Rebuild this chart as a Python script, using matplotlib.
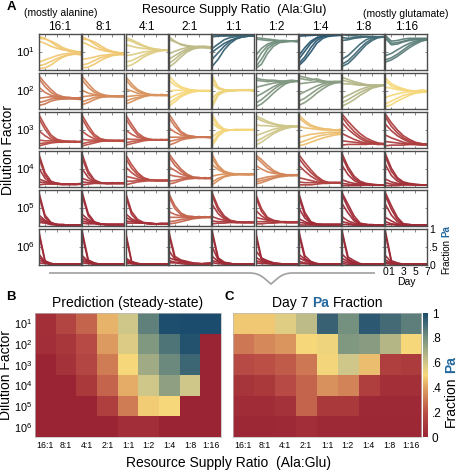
import numpy as np
import matplotlib
matplotlib.use("Agg")
import matplotlib.pyplot as plt
from matplotlib.colors import LinearSegmentedColormap
from matplotlib.path import Path
from matplotlib.patches import PathPatch

plt.rcParams['font.family'] = ['Liberation Sans', 'DejaVu Sans']
plt.rcParams['mathtext.fontset'] = 'custom'
plt.rcParams['mathtext.rm'] = 'Liberation Sans'
plt.rcParams['mathtext.it'] = 'Liberation Sans:italic'
plt.rcParams['mathtext.bf'] = 'Liberation Sans:bold'

W, H = 457, 471

ratios = ['16:1', '8:1', '4:1', '2:1', '1:1', '1:2', '1:4', '1:8', '1:16']
dilutions = ['$10^{1}$', '$10^{2}$', '$10^{3}$', '$10^{4}$', '$10^{5}$', '$10^{6}$']
days = [0, 1, 2, 3, 4, 5, 6, 7]

# steady-state model prediction (fraction Pa), rows = dilution 10^1..10^6
prediction = [
    [0.06, 0.15, 0.25, 0.43, 0.60, 0.84, 0.99, 1.00, 1.00],
    [0.05, 0.09, 0.18, 0.38, 0.57, 0.77, 0.88, 0.98, 0.00],
    [0.00, 0.07, 0.16, 0.31, 0.50, 0.70, 0.82, 0.92, 0.00],
    [0.00, 0.00, 0.10, 0.25, 0.42, 0.60, 0.74, 0.60, 0.00],
    [0.00, 0.00, 0.00, 0.13, 0.31, 0.48, 0.50, 0.00, 0.00],
    [0.00, 0.00, 0.00, 0.00, 0.05, 0.05, 0.00, 0.00, 0.00],
]

# measured day 7 fraction Pa
day7 = [
    [0.47, 0.47, 0.56, 0.64, 0.93, 0.80, 0.96, 0.91, 0.85],
    [0.30, 0.34, 0.37, 0.50, 0.52, 0.77, 0.75, 0.66, 0.50],
    [0.18, 0.20, 0.23, 0.30, 0.51, 0.60, 0.45, 0.13, 0.11],
    [0.08, 0.10, 0.18, 0.25, 0.36, 0.33, 0.13, 0.06, 0.06],
    [0.04, 0.04, 0.07, 0.25, 0.10, 0.10, 0.03, 0.03, 0.03],
    [0.02, 0.02, 0.03, 0.05, 0.03, 0.03, 0.02, 0.02, 0.02],
]

# time courses (% Pa, days 0..7), one list of replicate lines per ratio
traj_1e1 = [
    [[93, 88, 78, 66, 58, 52, 50, 50], [88, 86, 80, 72, 62, 56, 52, 48], [80, 74, 66, 60, 56, 54, 52, 50],
     [22, 28, 34, 40, 44, 46, 48, 46], [12, 16, 24, 32, 38, 42, 44, 42], [4, 6, 14, 26, 36, 42, 45, 44]],
    [[92, 84, 72, 62, 55, 50, 48, 46], [86, 84, 78, 68, 58, 52, 48, 46], [78, 70, 62, 56, 52, 50, 48, 47],
     [30, 32, 36, 40, 42, 44, 45, 44], [14, 18, 26, 34, 38, 42, 44, 42], [6, 8, 16, 26, 34, 40, 42, 44]],
    [[90, 84, 76, 68, 62, 58, 56, 55], [84, 80, 72, 66, 60, 58, 56, 54], [70, 66, 62, 60, 58, 56, 56, 55],
     [40, 42, 46, 50, 52, 54, 56, 56], [22, 26, 34, 42, 48, 52, 54, 55], [10, 14, 24, 36, 44, 50, 54, 56]],
    [[92, 80, 70, 66, 64, 64, 62, 62], [85, 78, 72, 68, 66, 64, 64, 62], [45, 52, 58, 62, 64, 66, 66, 64],
     [30, 40, 50, 58, 62, 64, 64, 62], [18, 30, 44, 54, 60, 62, 62, 60], [8, 20, 36, 50, 58, 62, 64, 62]],
    [[98, 96, 95, 96, 96, 97, 96, 97], [92, 94, 95, 95, 96, 96, 97, 96], [60, 72, 84, 90, 93, 95, 95, 95],
     [50, 62, 74, 82, 88, 92, 94, 95], [30, 48, 66, 80, 88, 92, 94, 94], [10, 30, 56, 74, 86, 92, 94, 95]],
    [[90, 88, 86, 84, 82, 82, 80, 80], [86, 84, 82, 82, 80, 80, 80, 80], [40, 60, 72, 78, 80, 80, 80, 80],
     [20, 48, 66, 76, 80, 80, 80, 80], [8, 30, 58, 72, 78, 80, 80, 78], [4, 16, 46, 66, 76, 78, 80, 82]],
    [[98, 97, 97, 97, 97, 98, 97, 98], [94, 95, 96, 97, 97, 97, 97, 97], [40, 62, 80, 90, 94, 96, 97, 97],
     [30, 52, 74, 88, 94, 96, 96, 97], [18, 36, 62, 82, 92, 95, 96, 96], [12, 28, 50, 74, 88, 94, 96, 97]],
    [[98, 96, 95, 94, 94, 93, 92, 93], [90, 88, 90, 92, 92, 92, 92, 92], [82, 84, 88, 90, 92, 92, 92, 92],
     [30, 40, 56, 72, 84, 90, 92, 92], [16, 26, 42, 60, 76, 86, 90, 92], [10, 18, 34, 52, 70, 82, 90, 92]],
    [[96, 80, 82, 86, 88, 88, 88, 88], [92, 74, 76, 80, 84, 86, 86, 86], [88, 70, 72, 78, 82, 84, 86, 86],
     [40, 46, 56, 66, 74, 80, 84, 86], [28, 34, 44, 56, 68, 76, 82, 84], [22, 28, 38, 50, 62, 72, 80, 84]],
]

traj_1e2 = [
    [[92, 72, 54, 40, 34, 32, 30, 30], [84, 62, 46, 36, 32, 30, 30, 28], [60, 46, 38, 34, 32, 30, 30, 30],
     [30, 32, 34, 32, 30, 32, 30, 32], [18, 22, 28, 30, 28, 30, 28, 28], [10, 14, 22, 26, 28, 28, 28, 26]],
    [[90, 70, 52, 42, 38, 36, 36, 34], [80, 60, 46, 40, 36, 36, 34, 36], [52, 44, 40, 38, 36, 34, 36, 36],
     [34, 36, 38, 36, 34, 36, 34, 34], [20, 26, 32, 34, 36, 34, 36, 34], [12, 18, 26, 32, 34, 36, 34, 36]],
    [[90, 70, 54, 46, 40, 38, 38, 38], [82, 62, 50, 44, 40, 40, 38, 38], [56, 50, 44, 42, 40, 38, 40, 38],
     [34, 36, 38, 38, 40, 38, 38, 38], [22, 28, 32, 36, 38, 38, 40, 38], [14, 20, 28, 34, 38, 38, 38, 38]],
    [[92, 74, 62, 56, 52, 52, 50, 50], [80, 66, 58, 54, 52, 50, 50, 52], [50, 52, 52, 50, 52, 50, 50, 50],
     [30, 38, 44, 48, 50, 50, 52, 50], [16, 28, 38, 44, 48, 50, 50, 50], [8, 20, 34, 42, 48, 50, 50, 50]],
    [[92, 60, 54, 52, 52, 52, 52, 52], [82, 58, 52, 52, 52, 54, 52, 52], [70, 56, 52, 50, 52, 52, 52, 54],
     [30, 46, 50, 52, 52, 52, 52, 52], [16, 42, 48, 50, 52, 52, 52, 50], [6, 38, 48, 50, 52, 52, 54, 52]],
    [[86, 82, 80, 80, 78, 78, 80, 78], [80, 78, 76, 78, 76, 74, 78, 78], [60, 64, 68, 72, 74, 76, 76, 78],
     [34, 42, 52, 62, 70, 74, 76, 78], [16, 26, 40, 54, 66, 72, 76, 76], [6, 14, 28, 44, 58, 70, 76, 78]],
    [[92, 88, 84, 80, 78, 76, 76, 76], [86, 82, 80, 84, 78, 74, 76, 76], [70, 72, 74, 76, 74, 76, 76, 74],
     [40, 48, 56, 64, 70, 74, 76, 76], [22, 30, 42, 54, 64, 70, 74, 74], [10, 18, 30, 44, 56, 66, 72, 74]],
    [[88, 82, 76, 72, 68, 66, 66, 66], [80, 76, 72, 68, 66, 66, 64, 66], [70, 70, 68, 66, 66, 66, 66, 66],
     [30, 38, 46, 54, 60, 64, 66, 66], [18, 26, 36, 46, 54, 60, 64, 66], [8, 16, 26, 38, 48, 58, 62, 66]],
    [[86, 70, 62, 56, 52, 50, 52, 50], [78, 64, 58, 54, 50, 50, 50, 52], [60, 58, 54, 52, 50, 50, 52, 50],
     [32, 38, 42, 46, 48, 48, 50, 50], [14, 22, 30, 38, 42, 46, 48, 48], [6, 12, 22, 30, 38, 44, 46, 48]],
]

traj_1e3 = [
    [[92, 62, 36, 24, 20, 18, 18, 16], [82, 52, 30, 22, 18, 18, 16, 18], [48, 34, 24, 20, 18, 18, 18, 16],
     [22, 20, 20, 18, 18, 16, 18, 18], [12, 14, 16, 16, 18, 18, 16, 18], [6, 10, 14, 16, 16, 18, 18, 16]],
    [[90, 62, 38, 26, 22, 20, 20, 20], [80, 52, 32, 24, 22, 20, 20, 18], [46, 34, 26, 22, 20, 22, 20, 20],
     [24, 22, 22, 20, 20, 20, 22, 20], [12, 16, 18, 20, 20, 20, 20, 22], [6, 10, 14, 18, 20, 20, 20, 20]],
    [[92, 66, 42, 30, 24, 22, 22, 22], [82, 56, 36, 26, 24, 22, 22, 22], [50, 38, 30, 26, 24, 22, 24, 22],
     [26, 24, 24, 22, 22, 22, 22, 24], [14, 18, 20, 22, 22, 24, 22, 22], [8, 12, 16, 20, 22, 22, 22, 22]],
    [[94, 70, 46, 36, 32, 30, 30, 30], [84, 60, 42, 34, 32, 30, 30, 28], [56, 44, 36, 32, 30, 30, 30, 30],
     [30, 30, 30, 30, 32, 30, 30, 30], [18, 22, 26, 28, 30, 30, 30, 30], [8, 14, 22, 26, 28, 30, 30, 30]],
    [[92, 66, 52, 50, 50, 50, 50, 50], [84, 60, 52, 50, 50, 50, 52, 50], [70, 56, 50, 50, 52, 50, 50, 52],
     [30, 44, 50, 50, 50, 50, 50, 50], [14, 38, 48, 50, 50, 50, 50, 50], [6, 32, 46, 50, 50, 52, 50, 50]],
    [[90, 82, 74, 68, 64, 62, 60, 60], [84, 76, 70, 66, 62, 60, 60, 60], [64, 62, 62, 60, 60, 60, 62, 60],
     [34, 40, 46, 52, 56, 58, 60, 60], [18, 26, 36, 44, 52, 56, 58, 60], [8, 16, 28, 40, 48, 54, 58, 60]],
    [[92, 76, 64, 58, 54, 52, 50, 50], [84, 70, 60, 56, 52, 52, 50, 52], [60, 56, 54, 52, 50, 50, 50, 48],
     [30, 34, 38, 40, 42, 44, 44, 44], [14, 20, 26, 32, 36, 38, 40, 42], [6, 10, 16, 22, 28, 32, 36, 38]],
    [[94, 74, 56, 40, 28, 20, 14, 12], [86, 64, 46, 32, 22, 16, 12, 12], [70, 52, 38, 26, 18, 14, 12, 10],
     [40, 32, 24, 18, 14, 12, 12, 10], [20, 18, 16, 14, 12, 12, 10, 12], [8, 10, 10, 10, 10, 12, 10, 10]],
    [[94, 70, 50, 34, 24, 16, 12, 10], [86, 60, 42, 28, 20, 14, 12, 10], [66, 48, 34, 24, 16, 12, 10, 10],
     [36, 28, 22, 16, 12, 10, 10, 10], [18, 16, 14, 12, 10, 10, 10, 8], [6, 8, 8, 8, 10, 10, 8, 10]],
]

traj_1e4 = [
    [[90, 40, 16, 10, 8, 8, 8, 8], [82, 32, 14, 10, 8, 8, 6, 8], [52, 24, 12, 10, 8, 6, 8, 8],
     [22, 16, 12, 10, 8, 8, 8, 8], [14, 12, 10, 8, 8, 8, 8, 10], [6, 8, 8, 8, 6, 8, 8, 8]],
    [[90, 44, 20, 12, 10, 10, 10, 10], [80, 36, 18, 12, 10, 10, 10, 10], [50, 26, 14, 12, 10, 10, 12, 10],
     [24, 18, 14, 12, 10, 12, 10, 10], [14, 12, 12, 10, 10, 10, 10, 12], [6, 8, 10, 10, 10, 10, 10, 10]],
    [[90, 62, 40, 26, 20, 18, 18, 18], [80, 52, 34, 24, 20, 18, 18, 18], [56, 40, 28, 22, 20, 18, 18, 18],
     [30, 26, 22, 20, 18, 18, 18, 18], [16, 16, 18, 18, 18, 18, 18, 18], [6, 10, 14, 16, 18, 18, 18, 18]],
    [[92, 70, 50, 36, 28, 26, 24, 24], [84, 60, 44, 32, 26, 24, 24, 26], [56, 46, 36, 30, 26, 26, 24, 24],
     [34, 30, 28, 26, 26, 24, 26, 24], [16, 18, 22, 24, 24, 26, 24, 26], [8, 12, 18, 22, 24, 24, 24, 24]],
    [[90, 60, 44, 38, 36, 36, 34, 36], [80, 54, 42, 38, 36, 34, 36, 34], [62, 48, 40, 36, 36, 36, 34, 36],
     [30, 34, 36, 36, 34, 36, 36, 34], [14, 24, 30, 34, 36, 34, 36, 36], [6, 18, 28, 32, 34, 36, 34, 36]],
    [[90, 76, 60, 46, 38, 34, 32, 32], [84, 68, 52, 42, 36, 34, 32, 34], [60, 50, 42, 38, 36, 34, 34, 32],
     [20, 24, 28, 30, 32, 34, 32, 34], [14, 18, 22, 26, 30, 32, 34, 34], [8, 12, 18, 24, 28, 30, 32, 32]],
    [[90, 68, 48, 30, 18, 12, 12, 12], [80, 58, 40, 26, 16, 12, 12, 12], [60, 44, 30, 20, 14, 12, 12, 10],
     [26, 22, 18, 14, 12, 12, 12, 12], [14, 12, 12, 12, 12, 12, 12, 12], [6, 6, 6, 8, 10, 10, 12, 12]],
    [[92, 56, 30, 16, 10, 8, 6, 6], [84, 48, 24, 12, 8, 6, 6, 6], [60, 34, 18, 10, 8, 6, 6, 6],
     [20, 14, 10, 8, 6, 6, 6, 6], [10, 8, 6, 6, 6, 6, 6, 6], [4, 4, 4, 4, 6, 6, 6, 6]],
    [[92, 52, 26, 14, 10, 8, 6, 6], [84, 44, 22, 12, 8, 6, 6, 6], [62, 32, 16, 10, 8, 6, 6, 6],
     [22, 14, 10, 8, 8, 6, 6, 6], [12, 8, 8, 6, 6, 6, 6, 6], [4, 4, 4, 6, 6, 6, 6, 6]],
]

traj_1e5 = [
    [[92, 30, 10, 4, 4, 2, 2, 2], [84, 24, 8, 4, 2, 2, 2, 2], [30, 16, 8, 4, 2, 2, 2, 2],
     [22, 14, 6, 4, 2, 2, 2, 2], [16, 10, 6, 4, 4, 2, 2, 2], [10, 8, 4, 2, 2, 2, 2, 2]],
    [[92, 34, 12, 6, 4, 4, 4, 4], [84, 28, 10, 6, 4, 4, 4, 4], [32, 18, 10, 6, 4, 4, 4, 4],
     [22, 14, 8, 6, 4, 4, 4, 4], [14, 10, 8, 6, 4, 4, 4, 4], [8, 6, 6, 4, 4, 4, 4, 4]],
    [[92, 40, 18, 10, 8, 6, 6, 6], [84, 32, 14, 8, 6, 6, 6, 6], [34, 20, 12, 8, 8, 6, 6, 6],
     [24, 16, 10, 8, 6, 6, 6, 8], [14, 12, 10, 8, 8, 6, 8, 6], [8, 8, 8, 8, 6, 6, 6, 6]],
    [[90, 56, 36, 28, 26, 24, 26, 24], [82, 48, 32, 26, 24, 26, 24, 26], [40, 32, 28, 26, 26, 24, 24, 24],
     [24, 24, 24, 24, 24, 26, 24, 24], [12, 14, 18, 20, 22, 24, 24, 26], [6, 8, 12, 16, 20, 22, 24, 24]],
    [[92, 52, 28, 16, 12, 10, 10, 10], [84, 44, 24, 14, 10, 10, 10, 10], [60, 34, 20, 14, 12, 10, 10, 10],
     [26, 20, 16, 12, 10, 10, 10, 10], [14, 12, 12, 10, 10, 10, 10, 10], [6, 8, 8, 10, 10, 10, 10, 10]],
    [[90, 48, 24, 16, 12, 10, 10, 10], [82, 40, 20, 14, 12, 10, 10, 10], [44, 28, 18, 14, 12, 12, 10, 10],
     [24, 20, 16, 14, 12, 10, 10, 12], [12, 12, 12, 10, 10, 10, 10, 10], [6, 6, 8, 8, 10, 10, 10, 10]],
    [[90, 38, 12, 6, 4, 4, 4, 4], [82, 30, 10, 4, 4, 4, 4, 4], [50, 22, 8, 4, 4, 4, 4, 4],
     [20, 12, 6, 4, 4, 4, 4, 4], [10, 8, 4, 4, 4, 4, 4, 4], [4, 4, 4, 4, 4, 4, 4, 4]],
    [[92, 60, 28, 8, 4, 4, 2, 2], [86, 50, 20, 6, 4, 2, 2, 2], [62, 36, 14, 6, 4, 2, 2, 2],
     [26, 14, 8, 4, 4, 2, 2, 2], [12, 8, 4, 4, 2, 2, 2, 2], [4, 4, 2, 2, 2, 2, 2, 2]],
    [[92, 56, 24, 6, 4, 2, 2, 2], [84, 46, 18, 6, 4, 2, 2, 2], [60, 30, 12, 4, 2, 2, 2, 2],
     [24, 14, 6, 4, 2, 2, 2, 2], [12, 6, 4, 2, 2, 2, 2, 2], [4, 4, 2, 2, 2, 2, 2, 2]],
]

traj_1e6 = [
    [[92, 12, 4, 2, 2, 2, 2, 2], [84, 10, 4, 2, 2, 2, 2, 2], [30, 8, 4, 2, 2, 2, 2, 2],
     [22, 8, 2, 2, 2, 2, 2, 2], [14, 6, 2, 2, 2, 2, 2, 2], [6, 4, 2, 2, 2, 2, 2, 2]],
    [[92, 14, 6, 2, 2, 2, 2, 2], [82, 10, 4, 2, 2, 2, 2, 2], [26, 10, 4, 2, 2, 2, 2, 2],
     [18, 8, 4, 2, 2, 2, 2, 2], [12, 6, 2, 2, 2, 2, 2, 2], [6, 4, 2, 2, 2, 2, 2, 2]],
    [[92, 10, 4, 2, 2, 2, 2, 2], [84, 8, 4, 2, 2, 2, 2, 2], [20, 8, 4, 2, 2, 2, 2, 2],
     [14, 6, 2, 2, 2, 2, 2, 2], [10, 4, 2, 2, 2, 2, 2, 2], [4, 4, 2, 2, 2, 2, 2, 2]],
    [[92, 24, 14, 10, 6, 4, 4, 4], [84, 18, 12, 8, 4, 4, 2, 4], [40, 16, 10, 6, 4, 2, 4, 4],
     [20, 14, 10, 6, 4, 4, 2, 4], [12, 8, 6, 4, 2, 2, 4, 6], [6, 6, 4, 2, 2, 2, 4, 4]],
    [[94, 20, 8, 4, 2, 2, 2, 2], [86, 16, 6, 4, 2, 2, 2, 2], [50, 14, 6, 4, 2, 2, 2, 2],
     [24, 10, 6, 4, 2, 2, 2, 2], [12, 8, 4, 2, 2, 2, 2, 2], [6, 4, 2, 2, 2, 2, 2, 2]],
    [[94, 18, 12, 6, 4, 2, 2, 2], [86, 14, 8, 4, 2, 2, 2, 2], [40, 20, 10, 6, 4, 2, 2, 2],
     [22, 12, 6, 4, 2, 2, 2, 2], [12, 8, 4, 4, 2, 2, 2, 2], [6, 4, 4, 2, 2, 2, 2, 2]],
    [[94, 26, 10, 4, 2, 2, 2, 2], [86, 18, 6, 2, 2, 2, 2, 2], [30, 16, 8, 4, 2, 2, 2, 2],
     [20, 12, 6, 2, 2, 2, 2, 2], [10, 6, 4, 2, 2, 2, 2, 2], [4, 4, 2, 2, 2, 2, 2, 2]],
    [[94, 22, 12, 4, 2, 2, 2, 2], [86, 16, 8, 2, 2, 2, 2, 2], [30, 14, 6, 2, 2, 2, 2, 2],
     [18, 10, 4, 2, 2, 2, 2, 2], [10, 6, 2, 2, 2, 2, 2, 2], [4, 2, 2, 2, 2, 2, 2, 2]],
    [[94, 12, 6, 2, 2, 2, 2, 2], [86, 8, 4, 2, 2, 2, 2, 2], [26, 8, 4, 2, 2, 2, 2, 2],
     [14, 6, 2, 2, 2, 2, 2, 2], [8, 4, 2, 2, 2, 2, 2, 2], [4, 2, 2, 2, 2, 2, 2, 2]],
]

trajectories = [traj_1e1, traj_1e2, traj_1e3, traj_1e4, traj_1e5, traj_1e6]

# red -> yellow -> blue colour scale
cmap_pos = [0.0, 0.2, 0.4, 0.5, 0.6, 0.8, 1.0]
cmap_cols = ['#9a2434', '#bb4f46', '#e0a263', '#f7d87a', '#cfc68a', '#74907f', '#1b4c6e']
cmap = LinearSegmentedColormap.from_list('pa', list(zip(cmap_pos, cmap_cols)))

PA_BLUE = '#23689e'
FRAME = '#4d4d4d'

fig = plt.figure(figsize=(W / 100, H / 100), dpi=100)
renderer = fig.canvas.get_renderer()


def px_axes(x, y, w, h):
    # x, y = top-left corner in pixels
    return fig.add_axes([x / W, 1 - (y + h) / H, w / W, h / H])


def txt(x, y, s, **kw):
    return fig.text(x / W, 1 - y / H, s, **kw)


def multi_text(x, y, parts, size, vertical=False):
    """parts = [(text, colour, weight)], (x, y) = centre of the whole string on its baseline"""
    gap = 0.28 * size * 100 / 72
    objs, lens = [], []
    for s, c, w in parts:
        t = fig.text(0, 0, s, color=c, fontsize=size, fontweight=w,
                     ha='left', va='baseline', rotation_mode='anchor')
        lens.append(t.get_window_extent(renderer).width)
        objs.append(t)
    total = sum(lens) + gap * (len(parts) - 1)
    pos = -total / 2
    for t, L in zip(objs, lens):
        if vertical:
            t.set_rotation(90)
            t.set_position((x / W, 1 - (y - pos) / H))
        else:
            t.set_position(((x + pos) / W, 1 - y / H))
        pos += L + gap


# ---------------- panel A: time courses ----------------
col_x0, col_step, col_w = 39, 43.3, 42
row_y0, row_step, row_h = 34, 39, 36

for r in range(6):
    for c in range(9):
        ax = px_axes(col_x0 + c * col_step, row_y0 + r * row_step, col_w, row_h)
        colour = cmap(day7[r][c])
        for line in trajectories[r][c]:
            ax.plot(days, np.array(line) / 100, color=colour, lw=1.2, alpha=0.95,
                    solid_joinstyle='round')
        ax.set_xlim(0, 7)
        ax.set_ylim(0, 1)
        ax.set_xticks([0, 1, 3, 5, 7])
        ax.set_yticks([0, 0.5, 1])
        ax.tick_params(direction='in', length=1.8, width=0.6, color='#777777',
                       top=True, right=True, labelbottom=False, labelleft=False, pad=1.5)
        for sp in ax.spines.values():
            sp.set_color(FRAME)
            sp.set_linewidth(1.0)
        if r == 5 and c == 8:
            ax.tick_params(labelbottom=True, labelright=True, labelsize=7.5, pad=1.5)
            ax.set_xticklabels(['0', '1', '3', '5', '7'])
            ax.set_yticklabels(['0', '.5', '1'])
            ax.set_xlabel('Day', fontsize=7.5, labelpad=0)

for c, lab in enumerate(ratios):
    txt(col_x0 + c * col_step + col_w / 2, 26.5, lab, fontsize=8.5, ha='center', va='center')
for r, lab in enumerate(dilutions):
    txt(35, row_y0 + r * row_step + row_h / 2, lab, fontsize=8.2, ha='right', va='center')

txt(11, 7, 'A', fontsize=9.5, fontweight='bold', ha='center', va='center')
txt(61, 13, '(mostly alanine)', fontsize=7.5, ha='center', va='center')
txt(406, 14, '(mostly glutamate)', fontsize=7.5, ha='center', va='center')
txt(234, 10, 'Resource Supply Ratio  (Ala:Glu)', fontsize=9, ha='center', va='center')
txt(8.5, 150, 'Dilution Factor', fontsize=10, rotation=90, ha='center', va='center')
multi_text(449, 249.5, [('Fraction', 'black', 'normal'), ('Pa', PA_BLUE, 'bold')], 7, vertical=True)

# brace under panel A
bx = [49, 250, 258, 264, 271, 278, 284, 292, 375]
by = [273, 273, 273, 278, 284, 278, 273, 273, 273]
verts = [(x / W, 1 - y / H) for x, y in zip(bx, by)]
codes = [Path.MOVETO, Path.LINETO, Path.CURVE3, Path.CURVE3, Path.LINETO,
         Path.LINETO, Path.CURVE3, Path.CURVE3, Path.LINETO]
fig.patches.append(PathPatch(Path(verts, codes), transform=fig.transFigure,
                             fill=False, edgecolor='#a0a0a0', lw=1.2))

# ---------------- panels B and C: heatmaps ----------------
axB = px_axes(35, 313, 186, 124)
axC = px_axes(233, 313, 188, 124)
for ax, mat in [(axB, prediction), (axC, day7)]:
    im = ax.imshow(mat, cmap=cmap, vmin=0, vmax=1, aspect='auto', interpolation='nearest')
    ax.set_xticks(range(9))
    ax.set_xticklabels(ratios, fontsize=6.3)
    ax.set_yticks(range(6))
    ax.tick_params(length=0, pad=3)
    for sp in ax.spines.values():
        sp.set_color('#bbbbbb')
        sp.set_linewidth(0.5)
axB.set_yticklabels(dilutions, fontsize=7.8)
axB.tick_params(axis='y', pad=2)
axC.set_yticklabels([])

cax = px_axes(423, 313, 4.5, 124)
cb = fig.colorbar(im, cax=cax, ticks=[0, 0.2, 0.4, 0.6, 0.8, 1])
cb.outline.set_visible(False)
cax.set_yticklabels(['0', '.2', '.4', '.6', '.8', '1'])
cax.tick_params(length=0, pad=3, labelsize=8.5)

txt(11, 297, 'B', fontsize=9.5, fontweight='bold', ha='center', va='center')
txt(229, 297, 'C', fontsize=9.5, fontweight='bold', ha='center', va='center')
txt(128, 303, 'Prediction (steady-state)', fontsize=10, ha='center', va='center')
multi_text(328, 307, [('Day 7', 'black', 'normal'), ('Pa', PA_BLUE, 'bold'),
                      ('Fraction', 'black', 'normal')], 10)
txt(6.5, 375, 'Dilution Factor', fontsize=10, rotation=90, ha='center', va='center')
txt(228, 463, 'Resource Supply Ratio  (Ala:Glu)', fontsize=10, ha='center', va='center')
multi_text(455, 391.5, [('Fraction', 'black', 'normal'), ('Pa', PA_BLUE, 'bold')], 10, vertical=True)

fig.savefig('out.png', dpi=100)
